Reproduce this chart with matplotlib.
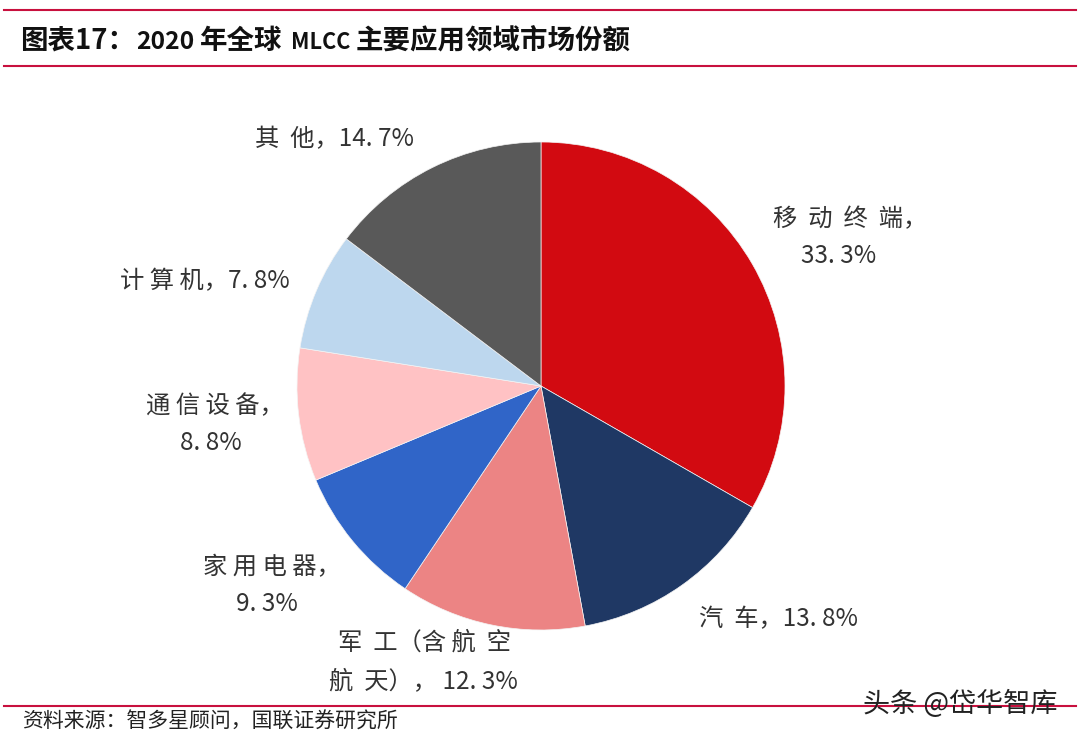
import matplotlib
matplotlib.use("Agg")
import matplotlib.pyplot as plt
from matplotlib.lines import Line2D

plt.rcParams['font.family'] = ['Noto Sans CJK SC', 'DejaVu Sans']

categories = ["移动终端", "汽车", "军工(含航空航天)", "家用电器", "通信设备", "计算机", "其他"]
shares = [33.3, 13.8, 12.3, 9.3, 8.8, 7.8, 14.7]
colors = ["#D20A11", "#1F3864", "#EC8484", "#3065C8", "#FFC2C4", "#BDD7EE", "#595959"]
label_lines = ["移  动  终  端\uff0c", "33. 3%", "汽  车\uff0c13. 8%", "军  工\uff08含 航  空", "航  天\uff09\uff0c 12. 3%",
               "家 用 电 器\uff0c", "9. 3%", "通 信 设 备\uff0c", "8. 8%", "计 算 机\uff0c7. 8%", "其  他\uff0c14. 7%"]
label_xy = [(773, 219), (801, 256), (699, 619), (338, 643), (329, 681),
            (203, 567), (236, 604), (146, 406), (180, 443), (120, 281), (255, 139)]
title_parts = ["图表17\uff1a", "2020", "年全球", "MLCC", "主要应用领域市场份额"]
title_x = [20, 136, 200, 291, 356]
title_size = [19.8, 17.8, 19.8, 15.6, 19.8]
source = "资料来源\uff1a智多星顾问\uff0c国联证券研究所"
watermark = "头条 @岱华智库"

W, H = 1080, 737
fig = plt.figure(figsize=(W / 100, H / 100), dpi=100, facecolor="white")
cx, cy, r = 541, 386, 244
ax = fig.add_axes([(cx - r) / W, 1 - (cy + r) / H, 2 * r / W, 2 * r / H])
ax.pie(shares, colors=colors, startangle=90, counterclock=False, radius=1,
       wedgeprops=dict(linewidth=0.5, edgecolor="#F4F4F4"))
ax.set_xlim(-1, 1)
ax.set_ylim(-1, 1)
ax.set_aspect("equal")
ax.axis("off")

line_color = "#C8103E"
for y in [10, 66, 706]:
    fig.add_artist(Line2D([4 / W, 1076 / W], [1 - y / H, 1 - y / H], color=line_color, lw=1.5,
                          transform=fig.transFigure))

for part, x, size in zip(title_parts, title_x, title_size):
    fig.text(x / W, 1 - 49 / H, part, fontsize=size, fontweight="bold", va="baseline", ha="left",
             color="#111111")
fig.text(22 / W, 1 - 722 / H, source, fontsize=15, va="center", ha="left", color="#222222")
for txt, (x, y) in zip(label_lines, label_xy):
    fig.text(x / W, 1 - y / H, txt, fontsize=17.5, va="center", ha="left", color="#333333")
fig.text(960 / W, 1 - 704 / H, watermark, fontsize=19.5, va="center", ha="center", color="#222222")

fig.savefig("out.png", dpi=100)
